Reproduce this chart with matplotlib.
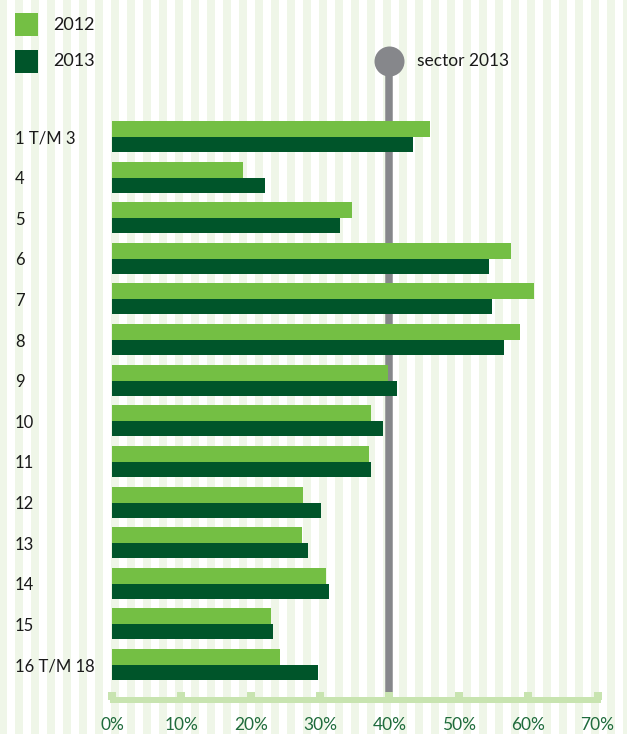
import matplotlib
matplotlib.use("Agg")
import matplotlib.pyplot as plt
from matplotlib.patches import Rectangle
import numpy as np

# ---------------- data ----------------
categories = ["1 T/M 3", "4", "5", "6", "7", "8", "9", "10", "11", "12",
              "13", "14", "15", "16 T/M 18"]
values_2012 = [45.8, 18.9, 34.6, 57.5, 60.8, 58.8, 39.8, 37.3, 37.1, 27.5,
               27.4, 30.9, 22.9, 24.2]
values_2013 = [43.4, 22.1, 32.9, 54.4, 54.8, 56.5, 41.1, 39.1, 37.3, 30.1,
               28.3, 31.3, 23.2, 29.7]
sector_2013 = 40
sector_label = "sector 2013"
series_labels = ["2012", "2013"]
tick_values = [0, 10, 20, 30, 40, 50, 60, 70]
tick_labels = ["0%", "10%", "20%", "30%", "40%", "50%", "60%", "70%"]

# ---------------- style ----------------
C2012 = "#74bf44"
C2013 = "#00552a"
GRAY = "#86878b"
STRIPE = "#eff6e8"
AXISC = "#c8e4b0"
TICKC = "#1f6b3c"
TEXTC = "#1a1a1a"
plt.rcParams["font.family"] = ["Lato", "DejaVu Sans"]

W, H = 627, 734
PT = 0.72  # points per pixel at dpi 100
fig = plt.figure(figsize=(W / 100, H / 100), dpi=100)
fig.patch.set_facecolor("white")

# background stripes + legend (pixel coordinates)
bg = fig.add_axes([0, 0, 1, 1], zorder=0)
bg.set_xlim(0, W)
bg.set_ylim(H, 0)
bg.axis("off")
for x0 in range(-1, W, 16):
    bg.axvspan(x0, x0 + 8, color=STRIPE, lw=0)
for i, (lab, col) in enumerate(zip(series_labels, [C2012, C2013])):
    y0 = 13 + 37 * i
    bg.add_patch(Rectangle((15, y0), 23, 23, color=col, lw=0))
    bg.text(53, y0 + 11.5, lab, fontsize=13, color=TEXTC, va="center", ha="left")

# main axes
row_px = 40.615
first_row_px = 137
axis_px = 700
px_per_unit = 6.936
zero_px = 112
left_px, right_px = 110, 601

ax = fig.add_axes([left_px / W, (H - axis_px) / H, (right_px - left_px) / W, axis_px / H], zorder=1)
ax.patch.set_alpha(0)
ax.set_xlim((left_px - zero_px) / px_per_unit, (right_px - zero_px) / px_per_unit)
ax.set_ylim((axis_px - first_row_px) / row_px, -first_row_px / row_px)

y = np.arange(len(categories))
h12 = 16 / row_px
h13 = 15 / row_px
ax.barh(y - h12, values_2012, height=h12, align="edge", color=C2012, lw=0, zorder=1)
ax.barh(y, values_2013, height=h13, align="edge", color=C2013, lw=0, zorder=1)

# sector line with knob
circle_row = (61 - first_row_px) / row_px
ax.plot([sector_2013, sector_2013], [circle_row, (axis_px - first_row_px) / row_px],
        color=GRAY, lw=7.5 * PT, solid_capstyle="butt", zorder=0.5, clip_on=False)
ax.plot([sector_2013], [circle_row], marker="o", ms=30 * PT, color=GRAY,
        mec="none", zorder=0.6, clip_on=False)
ax.annotate(sector_label, xy=(sector_2013, circle_row), xytext=(28 * PT, 0),
            textcoords="offset points", ha="left", va="center", fontsize=12.5,
            color=TEXTC)

# spines and ticks
for s in ["top", "right", "left"]:
    ax.spines[s].set_visible(False)
ax.spines["bottom"].set_color(AXISC)
ax.spines["bottom"].set_linewidth(6 * PT)
ax.spines["bottom"].set_capstyle("butt")
ax.spines["bottom"].set_zorder(2.5)

ax.set_xticks(tick_values, tick_labels)
ax.tick_params(axis="x", direction="in", length=8 * PT, width=8 * PT, color=AXISC,
               labelcolor=TICKC, labelsize=12.5, pad=12)
ax.set_yticks(y, categories)
ax.tick_params(axis="y", length=0, pad=(left_px - 15) * PT, labelsize=12, labelcolor=TEXTC)
for t in ax.get_yticklabels():
    t.set_horizontalalignment("left")

fig.savefig("out.png", dpi=100, facecolor="white")
